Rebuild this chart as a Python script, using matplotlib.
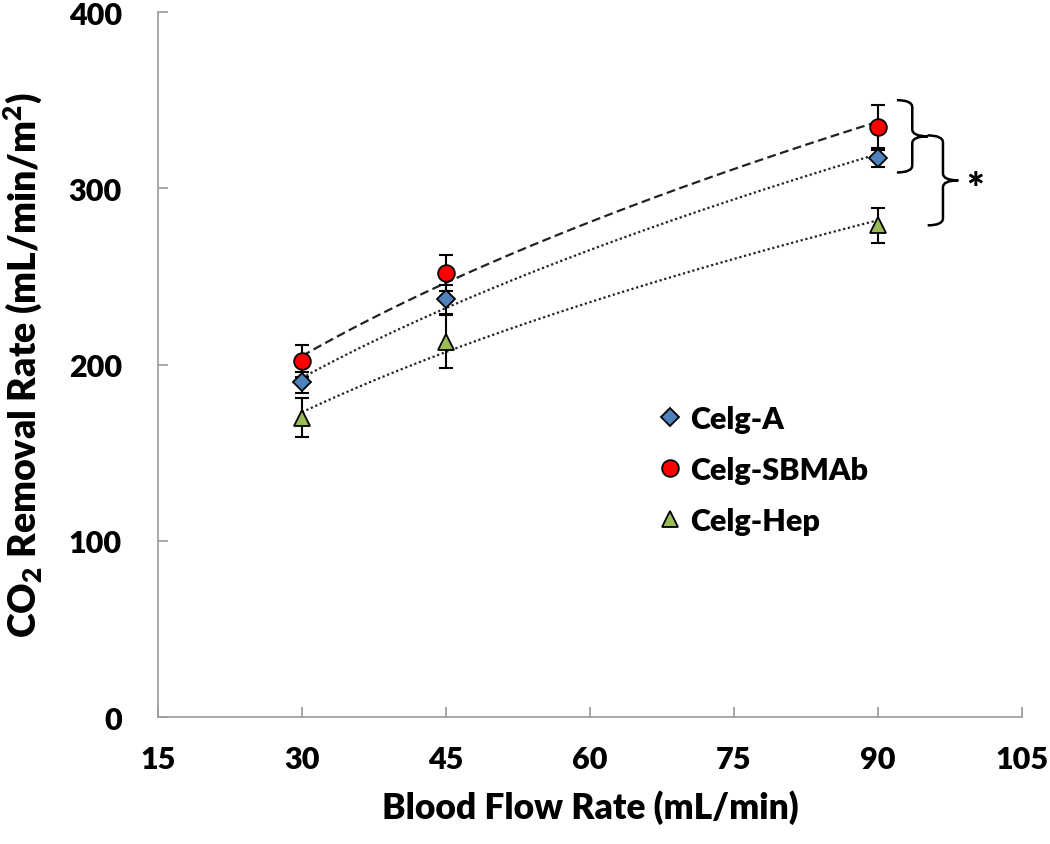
import matplotlib
matplotlib.use("Agg")
import matplotlib.pyplot as plt
import numpy as np
from matplotlib.path import Path
from matplotlib.patches import PathPatch

plt.rcParams['font.family'] = ['Lato', 'DejaVu Sans']
plt.rcParams['font.weight'] = 'heavy'
plt.rcParams['axes.labelweight'] = 'heavy'
plt.rcParams['mathtext.fontset'] = 'custom'
plt.rcParams['mathtext.bf'] = 'Lato:heavy'
plt.rcParams['mathtext.rm'] = 'Lato:heavy'
plt.rcParams['mathtext.default'] = 'bf'

# Blood flow rates (mL/min)
flow = [30, 45, 90]

# CO2 removal rates (mL/min/m^2)
celg_a = [190, 237, 317]
celg_a_err = [6, 8, 5]
celg_sbmab = [202, 252, 335]
celg_sbmab_err = [9, 10, 12]
celg_hep = [170, 213, 279]
celg_hep_err = [11, 15, 10]

series = [
    ('Celg-A', celg_a, celg_a_err, 'D', '#4F81BD', 9, ':'),
    ('Celg-SBMAb', celg_sbmab, celg_sbmab_err, 'o', '#FF0000', 12, '--'),
    ('Celg-Hep', celg_hep, celg_hep_err, '^', '#9BBB59', 12, ':'),
]

fig = plt.figure(figsize=(10.5, 8.45), dpi=100)
ax = fig.add_axes([0.1505, 0.150, 0.8225, 0.8346])

xs = np.linspace(flow[0], flow[-1], 200)
for name, vals, errs, mk, col, ms, ls in series:
    # Excel-style power trendline
    b, loga = np.polyfit(np.log(flow), np.log(vals), 1)
    ax.plot(xs, np.exp(loga) * xs ** b, color='#222222', lw=1.6, ls=ls,
            dashes=(4, 2) if ls == '--' else (1, 1.2), zorder=2)
    ax.errorbar(flow, vals, yerr=errs, fmt='none', ecolor='black',
                elinewidth=1.5, capsize=5, capthick=1.5, zorder=3)
    ax.plot(flow, vals, ls='none', marker=mk, ms=ms, mfc=col, mec='black',
            mew=1.3, label=name, zorder=4)


def brace(x_end, x_mid, x_tip, y_top, y_bot, r=4):
    y_c = (y_top + y_bot) / 2
    verts = [(x_end, y_top), (x_mid, y_top), (x_mid, y_top - r),
             (x_mid, y_c + r), (x_mid, y_c), (x_tip, y_c),
             (x_mid, y_c), (x_mid, y_c - r),
             (x_mid, y_bot + r), (x_mid, y_bot), (x_end, y_bot)]
    codes = [Path.MOVETO, Path.CURVE3, Path.CURVE3,
             Path.LINETO, Path.CURVE3, Path.CURVE3,
             Path.CURVE3, Path.CURVE3,
             Path.LINETO, Path.CURVE3, Path.CURVE3]
    ax.add_patch(PathPatch(Path(verts, codes), fill=False, lw=1.8,
                           edgecolor='black', clip_on=False))


brace(92.0, 93.6, 95.2, 350, 309)
brace(95.2, 96.8, 98.4, 330, 279)
ax.text(100.2, 299, '*', fontsize=30, ha='center', va='center')

ax.set_xlim(15, 105)
ax.set_ylim(0, 400)
ax.set_xticks(range(15, 106, 15))
ax.set_yticks(range(0, 401, 100))
for s in ['top', 'right']:
    ax.spines[s].set_visible(False)
for s in ['left', 'bottom']:
    ax.spines[s].set_color('#A0A0A0')
    ax.spines[s].set_linewidth(1.3)
ax.tick_params(axis='both', direction='in', length=7, width=1.3, color='#A0A0A0',
               labelsize=22)
ax.tick_params(axis='x', pad=20)
ax.tick_params(axis='y', pad=26)

ax.set_xlabel('Blood Flow Rate (mL/min)', fontsize=25.5, labelpad=12)
ax.set_ylabel('CO$_2$ Removal Rate (mL/min/m$^2$)', fontsize=27, labelpad=17)

ax.legend(loc='upper left', bbox_to_anchor=(0.565, 0.46), frameon=False,
          fontsize=22, handlelength=0.8, handletextpad=0.25, labelspacing=0.75,
          borderaxespad=0)

fig.savefig('out.png', dpi=100)
